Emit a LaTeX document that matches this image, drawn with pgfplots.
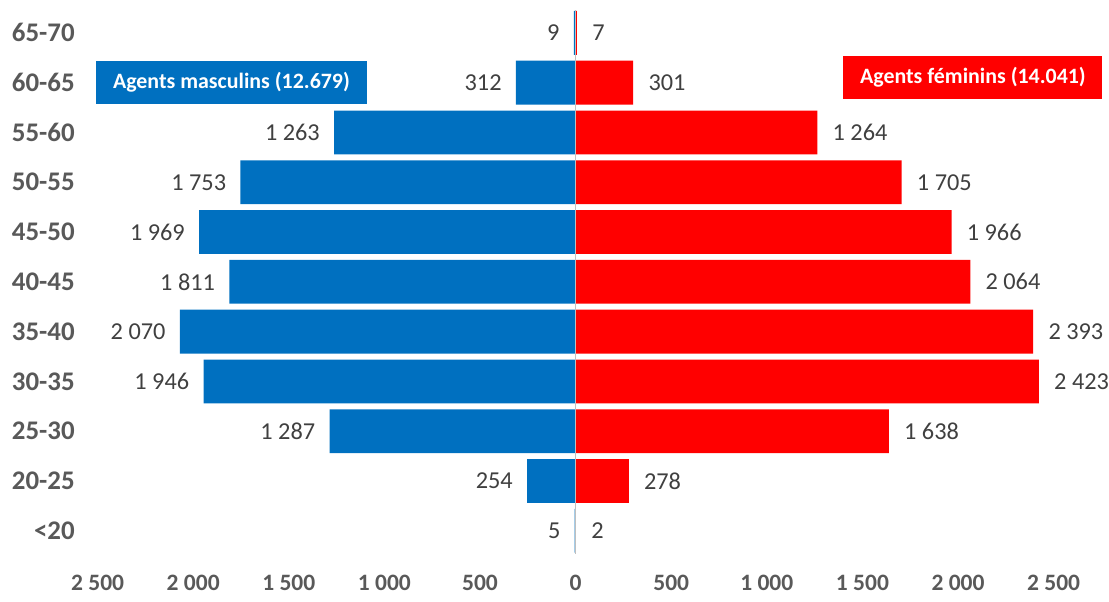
\documentclass[border=0pt]{standalone}
\usepackage{fontspec}
\setmainfont{Carlito}
\usepackage{pgfplots}
\pgfplotsset{compat=1.18}
\definecolor{mblue}{HTML}{0070C0}
\definecolor{fred}{HTML}{FF0000}
\definecolor{lblgray}{HTML}{595959}
\definecolor{valgray}{HTML}{404040}
\definecolor{axgray}{HTML}{BFBFBF}
\begin{document}
\begin{tikzpicture}
\begin{axis}[
 scale only axis,
 width=508.8pt, height=273pt,
 xmin=-2550, xmax=2750,
 ymin=-0.46, ymax=10.46,
 xbar, bar width=0.88, bar shift=0pt,
 clip=false,
 axis line style={draw=none},
 major tick length=0pt,
 xtick={-2500,-2000,-1500,-1000,-500,0,500,1000,1500,2000,2500},
 xticklabels={2 500,2 000,1 500,1 000,500,0,500,1 000,1 500,2 000,2 500},
 ytick={0,...,10},
 yticklabels={<20,20-25,25-30,30-35,35-40,40-45,45-50,50-55,55-60,60-65,65-70},
 xticklabel style={font=\fontsize{11.8}{14}\selectfont\bfseries, text=lblgray, anchor=center, yshift=-14.5pt},
 yticklabel style={font=\fontsize{13.5}{16}\selectfont\bfseries, text=lblgray, anchor=east, inner sep=0pt, xshift=-6.5pt},
 extra x ticks={0}, extra x tick labels={},
 extra x tick style={grid=major, major grid style={draw=axgray, line width=0.6pt}},
 nodes near coords,
 point meta=explicit symbolic,
 every node near coord/.append style={font=\fontsize{12.2}{14}\selectfont, text=valgray, inner sep=0pt},
 axis on top,
]
\addplot[fill=mblue, draw=none, bar shift=0pt,
  every node near coord/.append style={anchor=east, xshift=-7pt}] coordinates {
 (-5,0) [5]
 (-254,1) [254]
 (-1287,2) [1 287]
 (-1946,3) [1 946]
 (-2070,4) [2 070]
 (-1811,5) [1 811]
 (-1969,6) [1 969]
 (-1753,7) [1 753]
 (-1263,8) [1 263]
 (-312,9) [312]
 (-9,10) [9]
};
\addplot[fill=fred, draw=none, bar shift=0pt,
  every node near coord/.append style={anchor=west, xshift=7.5pt}] coordinates {
 (2,0) [2]
 (278,1) [278]
 (1638,2) [1 638]
 (2423,3) [2 423]
 (2393,4) [2 393]
 (2064,5) [2 064]
 (1966,6) [1 966]
 (1705,7) [1 705]
 (1264,8) [1 264]
 (301,9) [301]
 (7,10) [7]
};
\node[fill=mblue, text=white, font=\fontsize{11}{13}\selectfont\bfseries, minimum width=136.5pt, minimum height=21.5pt, inner sep=0pt] at (axis cs:-1800,9) {Agents masculins (12.679)};
\node[fill=fred, text=white, font=\fontsize{11}{13}\selectfont\bfseries, minimum width=130pt, minimum height=21.5pt, inner sep=0pt] at (axis cs:2078,9.11) {Agents féminins (14.041)};
\end{axis}
\path (current axis.south west) ++(-44.2pt,-24pt) coordinate (bl);
\path (current axis.north east) ++(1.5pt,5pt) coordinate (tr);
\path (bl) rectangle (tr);
\end{tikzpicture}
\end{document}
